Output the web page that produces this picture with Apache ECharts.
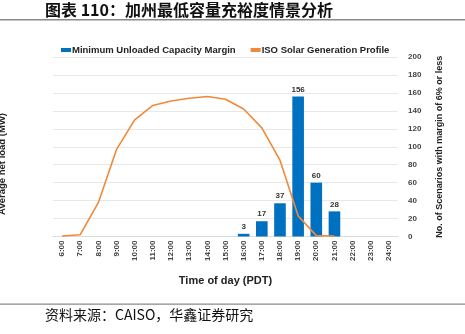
<!DOCTYPE html>
<html>
<head>
<meta charset="utf-8">
<script src="https://cdn.jsdelivr.net/npm/echarts@6/dist/echarts.min.js"></script>
<style>
  html, body { margin: 0; padding: 0; background: #fff; }
  #chart { width: 465px; height: 334px; }
</style>
</head>
<body>
<div id="chart"></div>
<script>
// Hour-of-day categories (PDT)
const hours = ['6:00','7:00','8:00','9:00','10:00','11:00','12:00','13:00','14:00','15:00',
  '16:00','17:00','18:00','19:00','20:00','21:00','22:00','23:00','24:00'];

// Scenarios with a margin of 6% or less, per hour
const marginScenarios = [null,null,null,null,null,null,null,null,null,null,3,17,37,156,60,28,null,null,null];

// Solar generation profile (plotted on the left axis, labels hidden)
const solarProfile = [0.5,2,38,97,130,146,151,154,156,153,142,121,85,23,1,0.5,null,null,null];

// Right axis ticks: 0 .. 200 step 20
const rightAxisMax = 200;
const rightAxisStep = 20;

const seriesNames = ['Minimum Unloaded Capacity Margin', 'ISO Solar Generation Profile'];
const titleText = '图表 110：加州最低容量充裕度情景分析';
const sourceText = '资料来源：CAISO，华鑫证券研究';

const BLUE = '#0070C0';
const ORANGE = '#F08A3A';
const LATIN = 'Liberation Sans, Arial, sans-serif';

const chart = echarts.init(document.getElementById('chart'));
chart.setOption({
  animation: false,
  backgroundColor: '#fff',
  textStyle: { fontFamily: LATIN },
  legend: {
    top: 40,
    left: 56,
    itemWidth: 10,
    itemHeight: 4,
    itemGap: 15,
    icon: 'rect',
    textStyle: { fontSize: 9.5, fontWeight: 'bold', color: '#222', padding: [0, 0, 0, -4] },
    data: seriesNames
  },
  grid: { left: 53, right: 67, top: 57, height: 179.5 },
  xAxis: {
    type: 'category',
    data: hours,
    boundaryGap: true,
    name: 'Time of day (PDT)',
    nameLocation: 'middle',
    nameGap: 39,
    nameTextStyle: { fontSize: 11, fontWeight: 'bold', color: '#222' },
    axisLine: { lineStyle: { color: '#dcdcdc' } },
    axisTick: { show: false },
    axisLabel: { rotate: 90, fontSize: 8, fontWeight: 'bold', color: '#444', margin: 4 }
  },
  yAxis: [
    {
      type: 'value',
      min: 0, max: rightAxisMax, interval: rightAxisStep,
      axisLine: { show: false },
      axisTick: { show: false },
      axisLabel: { show: false },
      splitLine: { lineStyle: { color: '#e8e8e8' } }
    },
    {
      type: 'value',
      position: 'right',
      min: 0, max: rightAxisMax, interval: rightAxisStep,
      name: 'No. of Scenarios with margin of 6% or less',
      nameLocation: 'middle',
      nameGap: 37,
      nameRotate: 90,
      nameTextStyle: { fontSize: 9, fontWeight: 'bold', color: '#222' },
      axisLine: { show: false },
      axisTick: { show: false },
      axisLabel: { fontSize: 8, fontWeight: 'bold', color: '#444', margin: 10, align: 'left' },
      splitLine: { show: false }
    }
  ],
  series: [
    {
      name: seriesNames[0],
      type: 'bar',
      yAxisIndex: 1,
      data: marginScenarios,
      barWidth: '64%',
      itemStyle: { color: BLUE },
      label: { show: true, position: 'top', distance: 3, fontSize: 8, fontWeight: 'bold', color: '#333' }
    },
    {
      name: seriesNames[1],
      type: 'line',
      yAxisIndex: 0,
      data: solarProfile,
      showSymbol: false,
      symbol: 'none',
      lineStyle: { color: ORANGE, width: 1.6 },
      itemStyle: { color: ORANGE },
      z: 3
    }
  ],
  graphic: [
    {
      type: 'text', left: 45, top: 2,
      style: { text: titleText, font: 'bold 16px "Noto Sans CJK SC", sans-serif', fill: '#111' }
    },
    {
      type: 'rect', shape: { x: 0, y: 19, width: 465, height: 1.5 },
      style: { fill: '#8a8a8a' }
    },
    {
      type: 'text', x: 2, y: 164, rotation: Math.PI / 2,
      style: { text: 'Average net load (MW)', font: 'bold 9.5px ' + LATIN, fill: '#222', align: 'center', verticalAlign: 'middle' }
    },
    {
      type: 'rect', shape: { x: 0, y: 303.5, width: 465, height: 1.2 },
      style: { fill: '#8a8a8a' }
    },
    {
      type: 'text', left: 45, top: 308,
      style: { text: sourceText, font: '14px "Noto Sans CJK SC", sans-serif', fill: '#111' }
    }
  ]
});
</script>
</body>
</html>
